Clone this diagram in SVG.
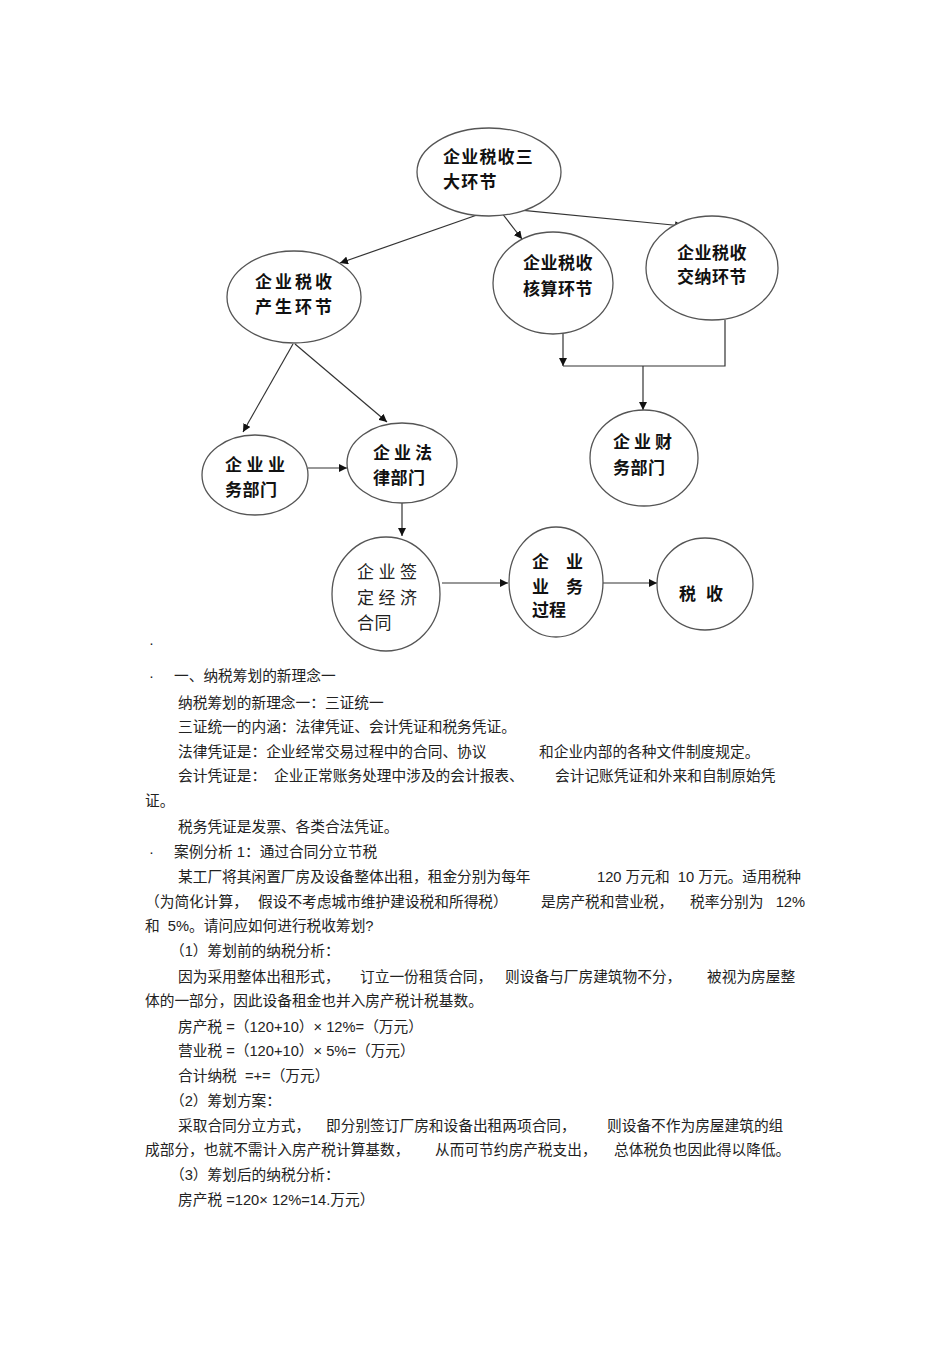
<svg xmlns="http://www.w3.org/2000/svg" width="950" height="1345" viewBox="0 0 950 1345">
<style>
.n{fill:#fff;stroke:#555;stroke-width:1.3}
.nt{font-family:"Noto Sans CJK SC","Liberation Sans",sans-serif;font-size:17px;font-weight:bold;fill:#111}
.nr{font-family:"Noto Sans CJK SC","Liberation Sans",sans-serif;font-size:17px;font-weight:normal;fill:#222}
.c{stroke:#333;stroke-width:1.2;fill:none}
.a{marker-end:url(#ah)}
.t{font-family:"Liberation Sans","Noto Sans CJK SC",sans-serif;font-size:14.7px;fill:#222}
</style>
<defs>
<marker id="ah" viewBox="0 0 10 10" refX="10" refY="5" markerWidth="8" markerHeight="8" markerUnits="userSpaceOnUse" orient="auto">
<path d="M0,0 L10,5 L0,10 z" fill="#111"/>
</marker>
</defs>
<rect width="950" height="1345" fill="#fff"/>

<g id="connectors">
<line class="c a" x1="497" y1="208" x2="340" y2="263"/>
<line class="c a" x1="498" y1="208" x2="522" y2="239"/>
<line class="c a" x1="500" y1="208" x2="683" y2="226"/>
<polyline class="c a" points="563,333 563,366"/>
<polyline class="c" points="563,366 725,366 725,320"/>
<line class="c a" x1="643" y1="366" x2="643" y2="410"/>
<line class="c a" x1="293" y1="344" x2="243" y2="432"/>
<line class="c a" x1="295" y1="344" x2="387" y2="422"/>
<line class="c a" x1="308" y1="468" x2="347" y2="468"/>
<line class="c a" x1="402" y1="503" x2="402" y2="536"/>
<line class="c a" x1="442" y1="583" x2="508" y2="583"/>
<line class="c a" x1="603" y1="583" x2="657" y2="583"/>
</g>

<g id="node-top">
<ellipse class="n" cx="489" cy="172" rx="72" ry="44"/>
<text class="nt" x="443" y="163" letter-spacing="1.2">企业税收三</text>
<text class="nt" x="443" y="188" letter-spacing="1.2">大环节</text>
</g>
<g id="node-chansheng">
<ellipse class="n" cx="294" cy="297" rx="67" ry="46"/>
<text class="nt" x="255" y="288" letter-spacing="3">企业税收</text>
<text class="nt" x="255" y="313" letter-spacing="3">产生环节</text>
</g>
<g id="node-hesuan">
<ellipse class="n" cx="553" cy="283" rx="60" ry="51"/>
<text class="nt" x="523" y="269" letter-spacing="0.5">企业税收</text>
<text class="nt" x="523" y="295" letter-spacing="0.5">核算环节</text>
</g>
<g id="node-jiaona">
<ellipse class="n" cx="712" cy="268" rx="66" ry="52"/>
<text class="nt" x="677" y="259" letter-spacing="0.5">企业税收</text>
<text class="nt" x="677" y="283" letter-spacing="0.5">交纳环节</text>
</g>
<g id="node-yewu">
<ellipse class="n" cx="255" cy="475" rx="53" ry="40"/>
<text class="nt" x="225" y="471" letter-spacing="4.5">企业业</text>
<text class="nt" x="225" y="496" letter-spacing="0.5">务部门</text>
</g>
<g id="node-falv">
<ellipse class="n" cx="402" cy="463" rx="55" ry="40"/>
<text class="nt" x="373" y="459" letter-spacing="4">企业法</text>
<text class="nt" x="373" y="484" letter-spacing="0.5">律部门</text>
</g>
<g id="node-caiwu">
<ellipse class="n" cx="644" cy="458" rx="54" ry="48"/>
<text class="nt" x="613" y="448" letter-spacing="4">企业财</text>
<text class="nt" x="613" y="474" letter-spacing="0.5">务部门</text>
</g>
<g id="node-hetong">
<ellipse class="n" cx="386" cy="594" rx="54" ry="57"/>
<text class="nr" x="357" y="578" letter-spacing="4.5">企业签</text>
<text class="nr" x="357" y="604" letter-spacing="4.5">定经济</text>
<text class="nr" x="357" y="629" letter-spacing="0.5">合同</text>
</g>
<g id="node-guocheng">
<ellipse class="n" cx="556" cy="582" rx="47" ry="55"/>
<text class="nt" x="532" y="568">企</text>
<text class="nt" x="566" y="568">业</text>
<text class="nt" x="532" y="593">业</text>
<text class="nt" x="566" y="593">务</text>
<text class="nt" x="532" y="616">过程</text>
</g>
<g id="node-shuishou">
<ellipse class="n" cx="705" cy="584" rx="48" ry="46"/>
<text class="nt" x="679" y="600">税</text>
<text class="nt" x="706" y="600">收</text>
</g>

<g id="body">
<text class="t" x="149" y="648">·</text>
<text class="t" x="149" y="681">·</text>
<text class="t" x="174" y="681">一、纳税筹划的新理念一</text>
<text class="t" x="178" y="708">纳税筹划的新理念一：三证统一</text>
<text class="t" x="178" y="732">三证统一的内涵：法律凭证、会计凭证和税务凭证。</text>
<text class="t" x="178" y="757">法律凭证是：企业经常交易过程中的合同、协议</text>
<text class="t" x="539" y="757">和企业内部的各种文件制度规定。</text>
<text class="t" x="178" y="781">会计凭证是：</text>
<text class="t" x="274" y="781">企业正常账务处理中涉及的会计报表、</text>
<text class="t" x="555" y="781">会计记账凭证和外来和自制原始凭</text>
<text class="t" x="145" y="806">证。</text>
<text class="t" x="178" y="832">税务凭证是发票、各类合法凭证。</text>
<text class="t" x="149" y="857">·</text>
<text class="t" x="174" y="857">案例分析   1：通过合同分立节税</text>
<text class="t" x="178" y="882">某工厂将其闲置厂房及设备整体出租，租金分别为每年</text>
<text class="t" x="597" y="882" xml:space="preserve">120 万元和  10 万元。适用税种</text>
<text class="t" x="145" y="907">（为简化计算，</text>
<text class="t" x="258" y="907">假设不考虑城市维护建设税和所得税）</text>
<text class="t" x="541" y="907">是房产税和营业税，</text>
<text class="t" x="690" y="907" xml:space="preserve">税率分别为   12%</text>
<text class="t" x="145" y="931" xml:space="preserve">和  5%。请问应如何进行税收筹划?</text>
<text class="t" x="170" y="956">（1）筹划前的纳税分析：</text>
<text class="t" x="178" y="982">因为采用整体出租形式，</text>
<text class="t" x="360" y="982">订立一份租赁合同，</text>
<text class="t" x="505" y="982">则设备与厂房建筑物不分，</text>
<text class="t" x="707" y="982">被视为房屋整</text>
<text class="t" x="145" y="1006">体的一部分，因此设备租金也并入房产税计税基数。</text>
<text class="t" x="178" y="1032" xml:space="preserve">房产税 =（120+10）× 12%=（万元）</text>
<text class="t" x="178" y="1056" xml:space="preserve">营业税 =（120+10）× 5%=（万元）</text>
<text class="t" x="178" y="1081" xml:space="preserve">合计纳税  =+=（万元）</text>
<text class="t" x="170" y="1106">（2）筹划方案：</text>
<text class="t" x="178" y="1131">采取合同分立方式，</text>
<text class="t" x="326" y="1131">即分别签订厂房和设备出租两项合同，</text>
<text class="t" x="607" y="1131">则设备不作为房屋建筑的组</text>
<text class="t" x="145" y="1155">成部分，也就不需计入房产税计算基数，</text>
<text class="t" x="435" y="1155">从而可节约房产税支出，</text>
<text class="t" x="614" y="1155">总体税负也因此得以降低。</text>
<text class="t" x="170" y="1180">（3）筹划后的纳税分析：</text>
<text class="t" x="178" y="1205" xml:space="preserve">房产税 =120× 12%=14.万元）</text>
</g>
</svg>
